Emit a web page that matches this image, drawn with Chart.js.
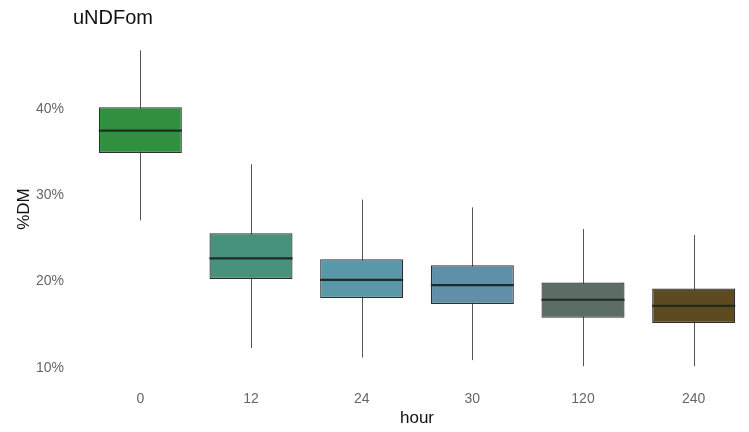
<!DOCTYPE html>
<html>
<head>
<meta charset="utf-8">
<script src="https://cdn.jsdelivr.net/npm/chart.js@4/dist/chart.umd.min.js"></script>
<style>
  html, body { margin: 0; padding: 0; background: #fff; overflow: hidden; }
</style>
</head>
<body>
<canvas id="boxChart" width="749" height="432"></canvas>
<script>
// box plot values (%DM)
var hours = ['0', '12', '24', '30', '120', '240'];
var whiskerLow = [27.1, 12.3, 11.2, 10.9, 10.2, 10.2];
var q1 = [34.9, 20.3, 18.1, 17.4, 15.8, 15.2];
var median = [37.5, 22.7, 20.2, 19.6, 17.9, 17.2];
var q3 = [40.2, 25.6, 22.6, 21.9, 19.9, 19.2];
var whiskerHigh = [46.8, 33.6, 29.5, 28.6, 26.1, 25.4];
var yTicks = [10, 20, 30, 40];
var boxColors = ['#31903f', '#46927a', '#5898a9', '#6090a9', '#5c6d65', '#5e4a20'];

var boxData = hours.map(function (h, i) { return [q1[i], q3[i]]; });

var boxExtras = {
    id: 'boxExtras',
    beforeDatasetsDraw: function (chart) {
        var ctx = chart.ctx;
        var x = chart.scales.x, y = chart.scales.y;
        ctx.save();
        ctx.strokeStyle = '#555';
        ctx.lineWidth = 1;
        hours.forEach(function (h, i) {
            var px = Math.round(x.getPixelForValue(i)) + 0.5;
            ctx.beginPath();
            ctx.moveTo(px, y.getPixelForValue(whiskerLow[i]));
            ctx.lineTo(px, y.getPixelForValue(whiskerHigh[i]));
            ctx.stroke();
        });
        ctx.restore();
    },
    afterDatasetsDraw: function (chart) {
        var ctx = chart.ctx;
        var y = chart.scales.y;
        var meta = chart.getDatasetMeta(0);
        ctx.save();
        ctx.strokeStyle = '#1e2b26';
        ctx.lineWidth = 2.2;
        meta.data.forEach(function (bar, i) {
            var py = y.getPixelForValue(median[i]);
            ctx.beginPath();
            ctx.moveTo(bar.x - bar.width / 2, py);
            ctx.lineTo(bar.x + bar.width / 2, py);
            ctx.stroke();
        });
        // plot title
        ctx.fillStyle = '#111';
        ctx.font = '20px "Liberation Sans", Arial, sans-serif';
        ctx.textBaseline = 'middle';
        ctx.textAlign = 'left';
        ctx.fillText('uNDFom', 73, 18);
        ctx.restore();
    }
};

var ctx = document.getElementById('boxChart').getContext('2d');
new Chart(ctx, {
    type: 'bar',
    data: {
        labels: hours,
        datasets: [{
            data: boxData,
            backgroundColor: boxColors,
            borderColor: '#2e2e2e',
            borderWidth: 1.2,
            borderSkipped: false,
            barPercentage: 0.75,
            categoryPercentage: 1
        }]
    },
    options: {
        responsive: false,
        animation: false,
        layout: { padding: { top: 36, left: 6, right: 0, bottom: 0 } },
        plugins: {
            legend: { display: false },
            tooltip: { enabled: false },
            title: { display: false }
        },
        scales: {
            x: {
                grid: { display: false, drawTicks: false },
                border: { display: false },
                ticks: {
                    color: '#666',
                    padding: 9,
                    font: { family: '"Liberation Sans", Arial, sans-serif', size: 14 }
                },
                title: {
                    display: true,
                    text: 'hour',
                    color: '#111',
                    padding: { top: 0, bottom: 3 },
                    font: { family: '"Liberation Sans", Arial, sans-serif', size: 17 }
                },
                afterFit: function (scale) { scale.height = 50; }
            },
            y: {
                min: 8.37,
                max: 48.46,
                grid: { display: false, drawTicks: false },
                border: { display: false },
                afterBuildTicks: function (scale) {
                    scale.ticks = yTicks.map(function (v) { return { value: v }; });
                },
                ticks: {
                    color: '#666',
                    padding: 21,
                    font: { family: '"Liberation Sans", Arial, sans-serif', size: 14 },
                    callback: function (v) { return v + '%'; }
                },
                title: {
                    display: true,
                    text: '%DM',
                    color: '#111',
                    padding: { top: 8, bottom: 0 },
                    font: { family: '"Liberation Sans", Arial, sans-serif', size: 17 }
                },
                afterFit: function (scale) { scale.width = 79; }
            }
        }
    },
    plugins: [boxExtras]
});
</script>
</body>
</html>
